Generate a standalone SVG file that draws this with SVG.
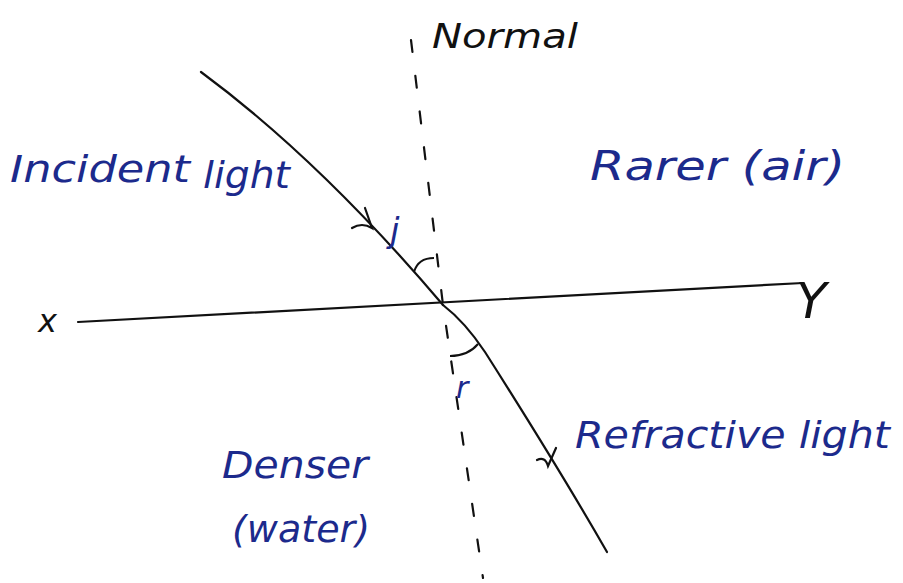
<svg xmlns="http://www.w3.org/2000/svg" width="903" height="583" viewBox="0 0 903 583">
<style>
.ray{fill:none;stroke:#111;stroke-width:2.2;stroke-linecap:round}
.dash{fill:none;stroke:#111;stroke-width:2.2;stroke-dasharray:12 24;stroke-linecap:round}
.arc{fill:none;stroke:#111;stroke-width:2}
.blue{fill:#1c2a8c;font-family:"DejaVu Sans","Liberation Sans",sans-serif;font-style:italic}
.blk{fill:#111;font-family:"DejaVu Sans","Liberation Sans",sans-serif;font-style:italic}
</style>
<rect width="903" height="583" fill="#fff"/>
<g id="connectors">
<path id="normal" class="dash" d="M411 40 L443 305 L483 578"/>
<path id="surface" class="ray" d="M78 322 Q440 302 803 283"/>
<path id="incident" class="ray" d="M201 72 Q320 160 443 305"/>
<path id="refracted" class="ray" d="M443 305 Q465 322 485 352 Q560 470 607 552"/>
<path class="ray" d="M352 228 Q362 222 372 228 L365 208"/>
<path class="ray" d="M537 460 Q545 456 548 466 L556 448"/>
<path class="arc" d="M414 272 Q418 258 434 258"/>
<path class="arc" d="M450 356 Q468 356 478 344"/>
</g>
<g id="labels">
<text class="blk" x="432" y="48" font-size="34" textLength="146" lengthAdjust="spacingAndGlyphs">Normal</text>
<text class="blk" x="38" y="332" font-size="32">x</text>
<text class="blk" x="796" y="318" font-size="50">Y</text>
<text class="blue" x="590" y="180" font-size="40" textLength="255" lengthAdjust="spacingAndGlyphs">Rarer (air)</text>
<text class="blue" x="10" y="182" font-size="38" textLength="180" lengthAdjust="spacingAndGlyphs">Incident</text>
<text class="blue" x="203" y="188" font-size="38" textLength="87" lengthAdjust="spacingAndGlyphs">light</text>
<text class="blue" x="390" y="242" font-size="34">j</text>
<text class="blue" x="456" y="398" font-size="30">r</text>
<text class="blue" x="222" y="478" font-size="38" textLength="146" lengthAdjust="spacingAndGlyphs">Denser</text>
<text class="blue" x="232" y="542" font-size="38" textLength="138" lengthAdjust="spacingAndGlyphs">(water)</text>
<text class="blue" x="575" y="448" font-size="38" textLength="315" lengthAdjust="spacingAndGlyphs">Refractive light</text>
</g>
</svg>
